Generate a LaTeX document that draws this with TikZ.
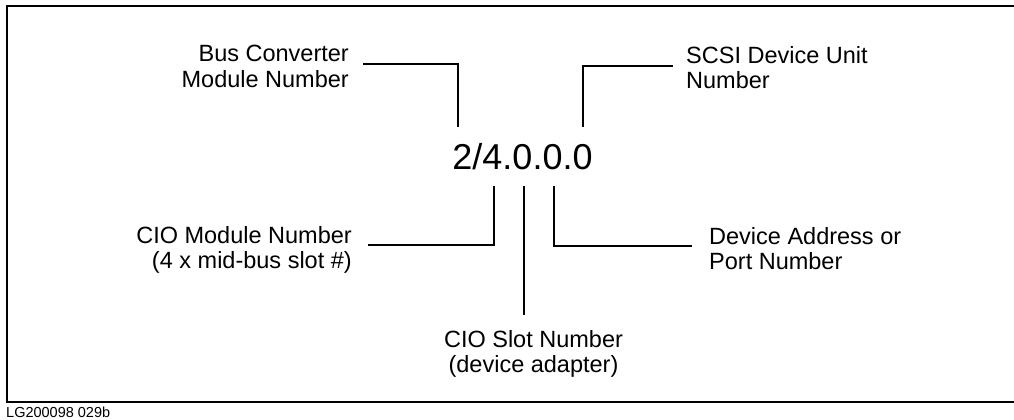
\documentclass[tikz,border=0pt]{standalone}
\usepackage{fontspec}
\setmainfont{Liberation Sans}
\begin{document}
\begin{tikzpicture}[x=1pt,y=-1pt,
  lbl/.style={inner sep=0pt,font=\fontsize{23.5}{25.5}\selectfont},
  conn/.style={line width=1.7pt},
  frame/.style={line width=2.2pt}]
\useasboundingbox (0,0) rectangle (1014,420);
\draw[frame] (1020,6) -- (7,6) -- (7,402) -- (1020,402);
\node[inner sep=0pt,anchor=north west,font=\fontsize{14.5}{17}\selectfont] (code) at (6,407) {LG200098\ 029b};
\node[inner sep=0pt,anchor=north,font=\fontsize{36}{40}\selectfont] (num) at (522.5,143) {2/4.0.0.0};
\node[lbl,anchor=north east,align=right] (bus) at (349,45) {Bus Converter\\Module Number};
\node[lbl,anchor=north west,align=left] (scsi) at (686,46) {SCSI Device Unit\\Number};
\node[lbl,anchor=north east,align=right] (cio) at (352,226) {CIO Module Number\\(4 x mid-bus slot \#)};
\node[lbl,anchor=north west,align=left] (dev) at (709,227) {Device Address or\\Port Number};
\node[lbl,anchor=north,align=center] (slot) at (533.5,330) {CIO Slot Number\\(device adapter)};
% connector end points
\coordinate (busA) at (363,64);
\coordinate (busB) at (458,127);
\coordinate (scsiA) at (673,66);
\coordinate (scsiB) at (583,127);
\coordinate (cioA) at (368,245);
\coordinate (cioB) at (494,186);
\coordinate (slotA) at (524,315);
\coordinate (slotB) at (524,186);
\coordinate (devA) at (692,246);
\coordinate (devB) at (554,186);
\draw[conn] (busA) -| (busB);
\draw[conn] (scsiA) -| (scsiB);
\draw[conn] (cioA) -| (cioB);
\draw[conn] (slotA) -- (slotB);
\draw[conn] (devA) -| (devB);
\end{tikzpicture}
\end{document}
